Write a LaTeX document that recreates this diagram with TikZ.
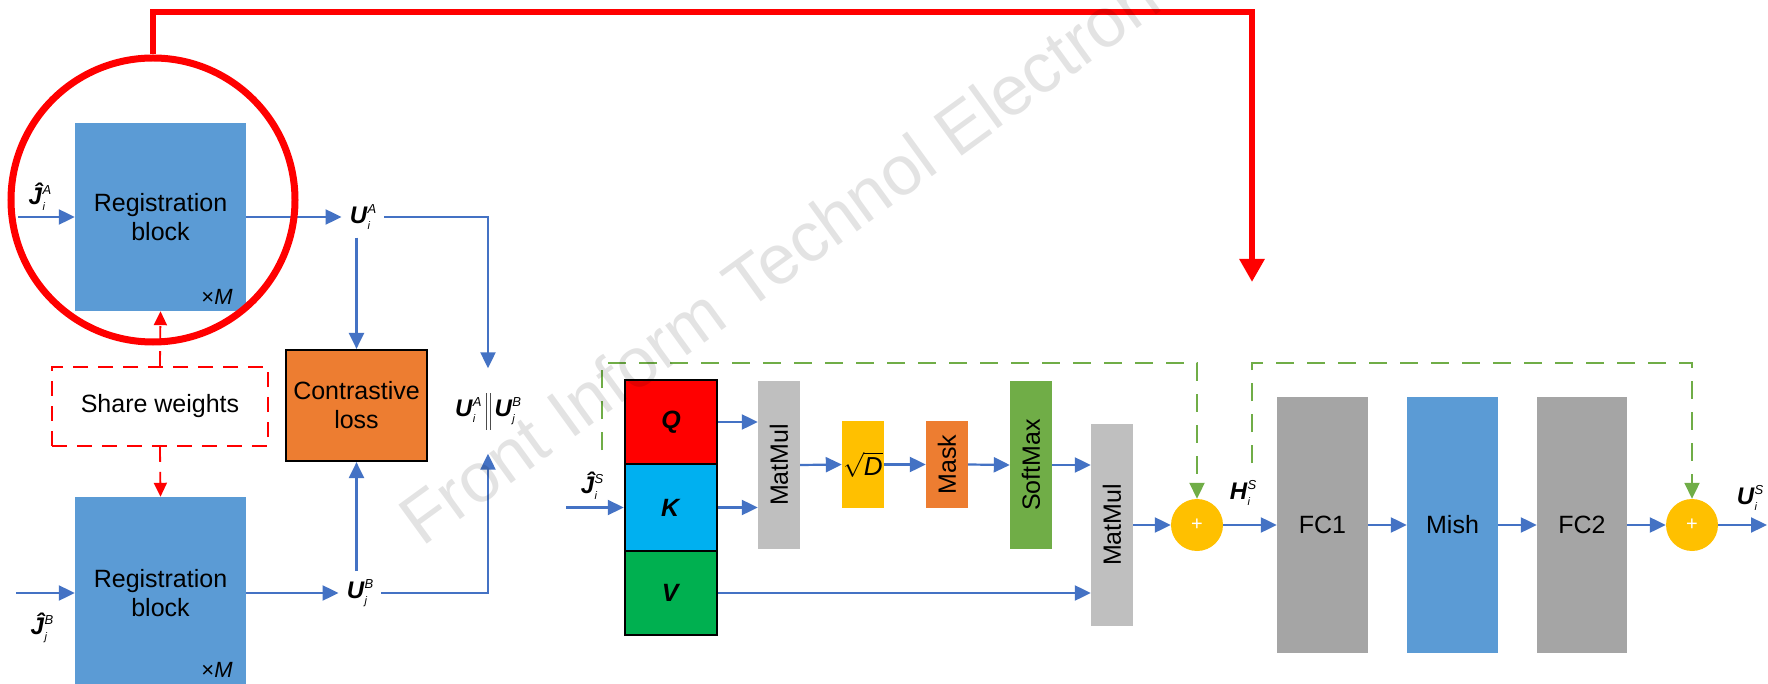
\documentclass[tikz,border=0pt]{standalone}
\usepackage{fontspec}
\setmainfont{Liberation Sans}
\usepackage{amsmath}
\usepackage{graphicx}
\usetikzlibrary{arrows.meta,calc}
\definecolor{regblue}{HTML}{5B9BD5}
\definecolor{arrblue}{HTML}{4472C4}
\definecolor{orng}{HTML}{ED7D31}
\definecolor{gold}{HTML}{FFC000}
\definecolor{grn}{HTML}{70AD47}
\definecolor{grayA}{HTML}{A5A5A5}
\definecolor{grayB}{HTML}{BFBFBF}
\definecolor{qred}{HTML}{FF0000}
\definecolor{kblue}{HTML}{00B0F0}
\definecolor{vgreen}{HTML}{00B050}
\newsavebox\supbx
\newsavebox\subbx
\newcommand\supsub[2]{%
 \sbox\supbx{\fontsize{13}{13}\selectfont\itshape #1}%
 \sbox\subbx{\fontsize{11}{11}\selectfont\itshape #2}%
 \ifdim\wd\supbx>\wd\subbx
   \rlap{\raisebox{-6pt}{\usebox\subbx}}\raisebox{10pt}{\usebox\supbx}%
 \else
   \rlap{\raisebox{10pt}{\usebox\supbx}}\raisebox{-6pt}{\usebox\subbx}%
 \fi}
\newcommand\vlab[3]{{\bfseries\itshape #1}\kern0.5pt\supsub{#3}{#2}}
\tikzset{
 box/.style={rectangle, inner sep=0pt, align=center, font=\fontsize{25}{29}\selectfont},
 regblock/.style={box, fill=regblue, minimum width=171pt},
 lab/.style={inner sep=8pt, font=\fontsize{24}{26}\selectfont},
 arr/.style={draw=arrblue, line width=2.2pt, -{Triangle[length=16pt,width=15pt]}},
 rdash/.style={draw=red, line width=1.8pt, dash pattern=on 15pt off 10pt, -{Triangle[length=14pt,width=13pt]}},
 gdash/.style={draw=grn, line width=2pt, dash pattern=on 18pt off 13pt, -{Triangle[length=16pt,width=15pt]}},
 qkv/.style={box, draw=black, line width=2.5pt, minimum width=92pt},
 vbox/.style={box, minimum width=42pt},
 fcbox/.style={box, minimum width=91pt, minimum height=256pt},
 plus/.style={circle, fill=gold, minimum size=52pt, inner sep=0pt, text=white, font=\fontsize{20}{20}\selectfont},
 times/.style={inner sep=0pt, font=\fontsize{22}{22}\selectfont}
}
\begin{document}
\begin{tikzpicture}[x=1pt,y=-1pt]
\useasboundingbox (0,0) rectangle (1768,684);
\clip (0,0) rectangle (1768,684);
\fill[white] (0,0) rectangle (1768,684);

% ---------- left part ----------
\node[regblock, minimum height=188pt] (ra) at (160.5,217) {Registration\\block};
\node[regblock, minimum height=192pt] (rb) at (160.5,593) {Registration\\block};
\node[times] (ma) at (217,297) {×\textit{M}};
\node[times] (mb) at (217,670) {×\textit{M}};

\node[lab] (ja) at (40,197) {\vlab{Ĵ}{i}{A}};
\node[lab] (jb) at (42,628) {\vlab{Ĵ}{j}{B}};
\coordinate (ina) at (18,217);
\coordinate (inb) at (16,593);
\draw[arr] (ina) -- (ra.west);
\draw[arr] (inb) -- (rb.west);

\node[lab] (ua) at (363,217) {\vlab{U}{i}{A}};
\node[lab] (ub) at (360,593) {\vlab{U}{j}{B}};
\node[lab, inner sep=0pt, minimum height=85pt] (cat) at (488,411)
  {\vlab{U}{i}{A}\kern4pt\raisebox{-13pt}{\color{black!70}\rule{1pt}{37pt}\kern3pt\rule{1pt}{37pt}}\kern4pt\vlab{U}{j}{B}};
\node[box, draw=black, line width=2.2pt, fill=orng, minimum width=141pt, minimum height=111pt] (cl) at (356.5,405.5) {Contrastive\\loss};
\node[box, draw=red, line width=1.8pt, dash pattern=on 15pt off 10pt, minimum width=216pt, minimum height=79pt] (sw) at (160,406.5) {Share weights};

\draw[arr] (ra.east) -- (ua.west);
\draw[arr] (rb.east) -- (ub.west);
\draw[arr] (ua.south -| cl.north) -- (cl.north);
\draw[arr] (ub.north -| cl.south) -- (cl.south);
\draw[arr] (ua.east) -- (ua.east -| cat.north) -- (cat.north);
\draw[arr] (ub.east) -- (ub.east -| cat.south) -- (cat.south);
\draw[rdash] (sw.north) -- (ra.south);
\draw[rdash] (sw.south) -- (rb.north);

% red highlight
\node[circle, draw=red, line width=7pt, minimum size=284pt, inner sep=0pt] (rc) at (153,200) {};
\coordinate (topy) at (0,12);
\coordinate (tgt) at (1252,282);
\draw[red, line width=6.5pt, miter limit=10, -{Triangle[length=23pt,width=24pt]}]
  (rc.north) -- (rc.north |- topy) -| (tgt);

% ---------- right part ----------
\node[qkv, fill=qred, minimum height=84pt] (q) at (671,422) {\textbf{\textit{Q}}};
\node[qkv, fill=kblue, minimum height=87pt] (k) at (671,507.5) {\textbf{\textit{K}}};
\node[qkv, fill=vgreen, minimum height=84pt] (v) at (671,593) {\textbf{\textit{V}}};
\node[lab] (js) at (592,486) {\vlab{Ĵ}{i}{S}};
\coordinate (ins) at (566,507.5);
\draw[arr] (ins) -- (k.west);

\node[vbox, fill=grayB, minimum height=168pt] (mm1) at (779,465) {\rotatebox{90}{MatMul}};
\node[vbox, fill=gold, minimum height=87pt] (sq) at (863,464.5) {\fontsize{26}{26}\selectfont$\sqrt{\text{\itshape D}}$};
\node[vbox, fill=orng, minimum height=87pt] (mk) at (947,464.5) {\rotatebox{90}{Mask}};
\node[vbox, fill=grn, minimum height=168pt] (sm) at (1031,465) {\rotatebox{90}{SoftMax}};
\node[vbox, fill=grayB, minimum height=202pt] (mm2) at (1112,525) {\rotatebox{90}{MatMul}};
\node[plus] (p1) at (1197,525) {+};
\node[fcbox, fill=grayA] (fc1) at (1322.5,525) {FC1};
\node[fcbox, fill=regblue] (mish) at (1452.5,525) {Mish};
\node[fcbox, fill=grayA, minimum width=90pt] (fc2) at (1582,525) {FC2};
\node[plus] (p2) at (1692,525) {+};
\node[lab] (hs) at (1243,493) {\vlab{H}{i}{S}};
\node[lab] (us) at (1750,498) {\vlab{U}{i}{S}};
\coordinate (outp) at (1767,525);

\draw[arr] (q.east) -- (q.east -| mm1.west);
\draw[arr] (k.east) -- (k.east -| mm1.west);
\draw[arr] (mm1.east) -- (sq.west);
\draw[arr] (sq.east) -- (mk.west);
\draw[arr] (mk.east) -- (sm.west);
\draw[arr] (sm.east) -- (sm.east -| mm2.west);
\draw[arr] (v.east) -- (v.east -| mm2.west);
\draw[arr] (mm2.east) -- (p1.west);
\draw[arr] (p1.east) -- (fc1.west);
\draw[arr] (fc1.east) -- (mish.west);
\draw[arr] (mish.east) -- (fc2.west);
\draw[arr] (fc2.east) -- (p2.west);
\draw[arr] (p2.east) -- (outp);

\coordinate (gy) at (0,363);
\coordinate (g1s) at (602,450);
\coordinate (g2s) at (1252,463);
\draw[gdash] (g1s) -- (g1s |- gy) -| (p1.north);
\draw[gdash] (g2s) -- (g2s |- gy) -| (p2.north);

% watermark
\node[rotate=36, anchor=base west, inner sep=0pt, text=black, text opacity=0.11,
  font=\fontsize{70}{70}\selectfont] (wm) at (422,548) {Front Inform Technol Electron};
\end{tikzpicture}
\end{document}
